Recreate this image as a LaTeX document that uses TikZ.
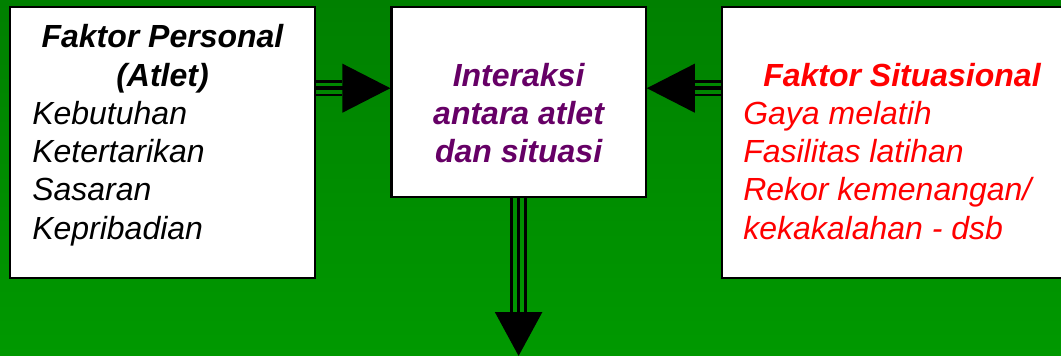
\documentclass[tikz,border=0pt]{standalone}
\usepackage{fontspec}
\setmainfont{Liberation Sans}
\usetikzlibrary{arrows.meta}

\definecolor{bgtop}{RGB}{0,128,0}
\definecolor{bgbot}{RGB}{0,153,0}
\definecolor{plum}{RGB}{102,0,102}
\definecolor{redtxt}{RGB}{255,0,0}

\tikzset{
  panel/.style={draw=black, fill=white, line width=1.6pt, inner sep=0pt},
  txt/.style={inner sep=0pt, font=\fontsize{24pt}{28.5pt}\selectfont\itshape},
  hd/.style={txt, font=\fontsize{24pt}{28.5pt}\selectfont\itshape\bfseries},
  core/.style={line width=3pt, -{Triangle[length=36pt 0 0, width=36pt 0 0]}},
  corev/.style={line width=2.8pt, -{Triangle[length=33pt 0 0, width=35pt 0 0]}},
  rail/.style={line width=2pt, shorten >=36pt},
  railv/.style={line width=2pt, shorten >=33pt},
}

\begin{document}
\begin{tikzpicture}[x=0.75pt, y=-0.75pt]
  % page and background
  \clip (0,0) rectangle (1061,356);
  \shade[top color=bgtop, bottom color=bgbot] (0,0) rectangle (1061,356);

  % the three panels
  \node[panel, minimum width=228.75pt, minimum height=203.25pt] (L) at (162.5,142.5) {};
  \node[panel, minimum width=190.65pt, minimum height=141.9pt] (M) at (518.6,102) {};
  \node[panel, minimum width=276pt, minimum height=203.25pt] (R) at (906,142.5) {};
  \coordinate (out) at (518.6,356);

  % personal factors
  \node[hd, anchor=base] (lp1) at (162.5,48) {Faktor Personal};
  \node[hd, anchor=base] (lp2) at (162.5,87) {(Atlet)};
  \node[txt, anchor=base west] (lp3) at (32,125) {Kebutuhan};
  \node[txt, anchor=base west] (lp4) at (32,163) {Ketertarikan};
  \node[txt, anchor=base west] (lp5) at (32,201) {Sasaran};
  \node[txt, anchor=base west] (lp6) at (32,239) {Kepribadian};

  % interaction
  \node[hd, text=plum, anchor=base] (mi1) at (518.6,87) {Interaksi};
  \node[hd, text=plum, anchor=base] (mi2) at (518.6,125) {antara atlet};
  \node[hd, text=plum, anchor=base] (mi3) at (518.6,163) {dan situasi};

  % situational factors
  \node[hd, text=redtxt, anchor=base west] (rs1) at (763,87) {Faktor Situasional};
  \node[txt, text=redtxt, anchor=base west] (rs2) at (743,125) {Gaya melatih};
  \node[txt, text=redtxt, anchor=base west] (rs3) at (743,163) {Fasilitas latihan};
  \node[txt, text=redtxt, anchor=base west] (rs4) at (743,201) {Rekor kemenangan/};
  \node[txt, text=redtxt, anchor=base west] (rs5) at (743,239) {kekakalahan - dsb};

  % triple-shaft arrows
  \draw[core] (L.east |- 0,88.2) -- (M.west |- 0,88.2);
  \draw[rail] (L.east |- 0,81.5) -- (M.west |- 0,81.5);
  \draw[rail] (L.east |- 0,94.9) -- (M.west |- 0,94.9);

  \draw[core] (R.west |- 0,88.2) -- (M.east |- 0,88.2);
  \draw[rail] (R.west |- 0,81.5) -- (M.east |- 0,81.5);
  \draw[rail] (R.west |- 0,94.9) -- (M.east |- 0,94.9);

  \draw[corev] (M.south) -- (out);
  \draw[railv] ([xshift=-5.1pt]M.south) -- ([xshift=-5.1pt]out);
  \draw[railv] ([xshift=5.1pt]M.south) -- ([xshift=5.1pt]out);
\end{tikzpicture}
\end{document}
